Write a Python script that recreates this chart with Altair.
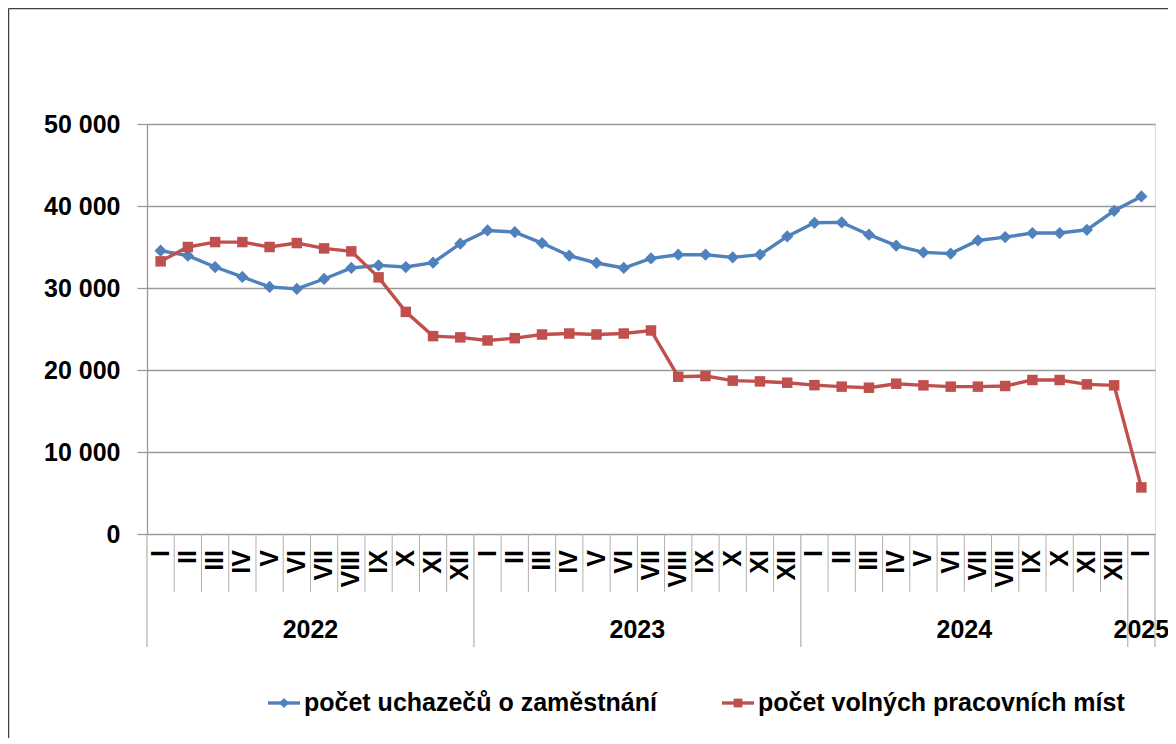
import altair as alt
import pandas as pd

# ---------------- data ----------------
roman = ["I", "II", "III", "IV", "V", "VI", "VII", "VIII", "IX", "X", "XI", "XII"]
month_labels = roman * 3 + ["I"]
years = ["2022", "2023", "2024", "2025"]
year_counts = [12, 12, 12, 1]

series_names = ["počet uchazečů o zaměstnání", "počet volných pracovních míst"]

uchazeci = [34550, 33940, 32560, 31350, 30130, 29890, 31100, 32440, 32760, 32560, 33090, 35400,
            37020, 36820, 35480, 33940, 33050, 32440, 33610, 34060, 34060, 33740, 34060, 36290,
            37950, 38000, 36500, 35160, 34340, 34190, 35800, 36210, 36700, 36700, 37100, 39420,
            41160]

volna = [33250, 35000, 35600, 35600, 35000, 35480, 34830, 34470, 31300, 27090, 24130, 23980,
         23600, 23880, 24330, 24450, 24330, 24450, 24820, 19180, 19260, 18700, 18610, 18450,
         18150, 17970, 17840, 18330, 18130, 17970, 17970, 18050, 18780, 18780, 18250, 18130,
         5680]

y_ticks = [0, 10000, 20000, 30000, 40000, 50000]

colors = ["#4F81BD", "#C0504D"]
shapes = ["diamond", "square"]
sizes = [150, 110]

# ---------------- layout ----------------
W, H = 1008, 410
FONT = "Liberation Sans"
FS = 25
GRID = "#9a9a9a"
n = len(month_labels)

pos = [i + 0.5 for i in range(n)]
df = pd.DataFrame({
    "pos": pos * 2,
    "value": uchazeci + volna,
    "series": [series_names[0]] * n + [series_names[1]] * n,
})

x_scale = alt.Scale(domain=[0, n], nice=False, zero=False)
y_scale = alt.Scale(domain=[0, 50000], nice=False)
color_scale = alt.Scale(domain=series_names, range=colors)

X = alt.X("pos:Q", scale=x_scale, axis=None)

base_axis = alt.Chart(df).mark_line(opacity=0).encode(
    x=X,
    y=alt.Y("value:Q", scale=y_scale, title=None,
            axis=alt.Axis(values=y_ticks,
                          labelExpr="replace(format(datum.value, ','), ',', ' ')",
                          grid=True, gridColor=GRID, gridWidth=1.3,
                          domain=True, domainColor=GRID, domainWidth=1.3,
                          ticks=True, tickSize=10, tickColor=GRID, tickWidth=1.3,
                          labelFont=FONT, labelFontSize=FS, labelFontWeight="bold",
                          labelColor="#000000", labelPadding=17)),
)

lines = alt.Chart(df).mark_line(strokeWidth=3.4).encode(
    x=X,
    y=alt.Y("value:Q", scale=y_scale),
    color=alt.Color("series:N", scale=color_scale, legend=None),
    detail="series:N",
)

points = alt.Chart(df).mark_point(filled=True, opacity=1).encode(
    x=X,
    y=alt.Y("value:Q", scale=y_scale),
    color=alt.Color("series:N", scale=color_scale, legend=None),
    shape=alt.Shape("series:N", scale=alt.Scale(domain=series_names, range=shapes), legend=None),
    size=alt.Size("series:N", scale=alt.Scale(domain=series_names, range=sizes), legend=None),
)

# category boundaries below the axis
year_bounds = [0]
acc = 0
for c in year_counts:
    acc += c
    year_bounds.append(acc)
month_bounds = [k for k in range(n + 1) if k not in year_bounds]

mb = alt.Chart(pd.DataFrame({"b": month_bounds})).mark_rule(color="#b0b0b0", strokeWidth=1).encode(
    x=alt.X("b:Q", scale=x_scale, axis=None),
    y=alt.value(H), y2=alt.value(H + 58),
)
yb = alt.Chart(pd.DataFrame({"b": year_bounds})).mark_rule(color="#b0b0b0", strokeWidth=1.2).encode(
    x=alt.X("b:Q", scale=x_scale, axis=None),
    y=alt.value(H), y2=alt.value(H + 113),
)

month_text = alt.Chart(pd.DataFrame({"pos": pos, "label": month_labels})).mark_text(
    angle=270, align="right", baseline="middle", font=FONT, fontSize=FS, fontWeight="bold",
    color="#000000",
).encode(
    x=alt.X("pos:Q", scale=x_scale, axis=None),
    y=alt.value(H + 16),
    text="label:N",
)

year_centers = []
start = 0
for c in year_counts:
    year_centers.append(start + c / 2)
    start += c

year_text = alt.Chart(pd.DataFrame({"pos": year_centers, "label": years})).mark_text(
    align="center", baseline="middle", font=FONT, fontSize=FS, fontWeight="bold", color="#000000",
).encode(
    x=alt.X("pos:Q", scale=x_scale, axis=None),
    y=alt.value(H + 96),
    text="label:N",
)

# legend (custom, Excel-like: line with marker)
LY = H + 169
legend_layers = []
leg_x = [121, 575]
for i, name in enumerate(series_names):
    one = alt.Chart(pd.DataFrame({"s": [name]}))
    x0 = leg_x[i]
    legend_layers.append(one.mark_rule(color=colors[i], strokeWidth=3.4).encode(
        x=alt.value(x0), x2=alt.value(x0 + 32), y=alt.value(LY)))
    legend_layers.append(one.mark_point(filled=True, opacity=1, color=colors[i],
                                        shape=shapes[i], size=sizes[i] * 0.7).encode(
        x=alt.value(x0 + 16), y=alt.value(LY)))
    legend_layers.append(one.mark_text(align="left", baseline="middle", font=FONT, fontSize=FS,
                                       fontWeight="bold", color="#000000").encode(
        x=alt.value(x0 + 36), y=alt.value(LY), text="s:N"))

# outer frame (top and left edges)
frame_top = alt.Chart(pd.DataFrame({"a": [0]})).mark_rule(color="#404040", strokeWidth=1.5).encode(
    x=alt.value(-138.5), x2=alt.value(W + 20), y=alt.value(-115.5))
frame_left = alt.Chart(pd.DataFrame({"a": [0]})).mark_rule(color="#404040", strokeWidth=1.5).encode(
    x=alt.value(-138.5), y=alt.value(-115.5), y2=alt.value(H + 220))

chart = alt.layer(
    base_axis, mb, yb, month_text, year_text, lines, points, frame_top, frame_left, *legend_layers
).properties(
    width=W, height=H,
    autosize=alt.AutoSizeParams(type="none"),
    padding={"left": 139, "top": 116, "right": 13, "bottom": 204},
).configure_view(stroke=None).configure(background="#ffffff")

chart.save("out.html", embed_options={"renderer": "svg", "actions": False})
